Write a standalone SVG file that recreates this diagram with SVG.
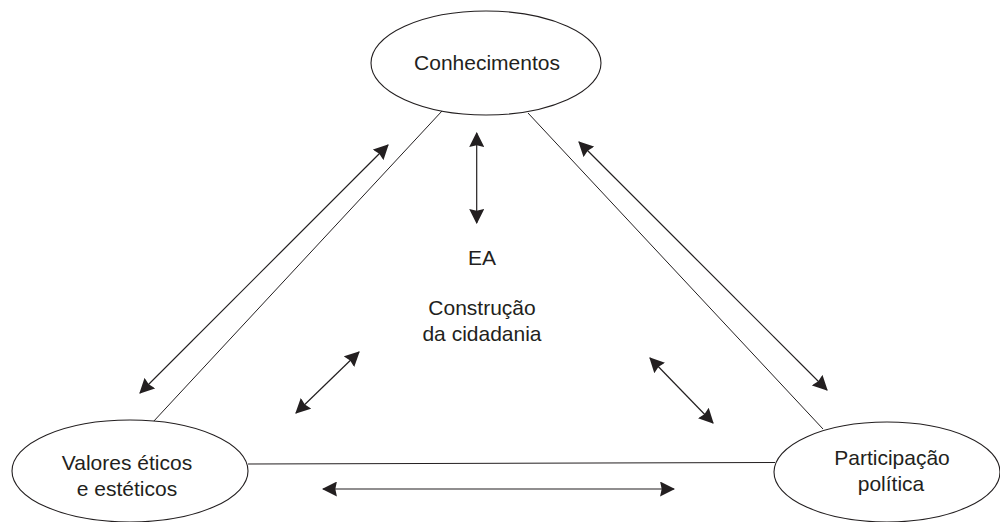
<svg xmlns="http://www.w3.org/2000/svg" width="1000" height="522" viewBox="0 0 1000 522">
<style>
.node ellipse{fill:#fff;stroke:#231f20;stroke-width:1.1}
text{font-family:"Liberation Sans",Arial,sans-serif;font-size:21px;fill:#231f20;text-anchor:middle}
.edge{stroke:#231f20;stroke-width:1;fill:none}
.arr{stroke:#231f20;stroke-width:1.2;fill:none;marker-start:url(#ah);marker-end:url(#ah)}
</style>
<defs>
<marker id="ah" markerUnits="userSpaceOnUse" markerWidth="15" markerHeight="15" refX="13" refY="7" orient="auto-start-reverse" viewBox="0 0 14 14">
<path d="M0,0 L14,7 L0,14 L1.5,7 Z" fill="#231f20"/>
</marker>
</defs>
<rect width="1000" height="522" fill="#fff"/>
<g id="connectors">
<line class="edge" x1="442" y1="111" x2="153" y2="422"/>
<line class="edge" x1="528" y1="113" x2="823" y2="429"/>
<line class="edge" x1="248" y1="464" x2="775" y2="462.5"/>
<line class="arr" x1="140" y1="393" x2="388" y2="145"/>
<line class="arr" x1="579" y1="142" x2="827" y2="390"/>
<line class="arr" x1="476.7" y1="133" x2="476.7" y2="223"/>
<line class="arr" x1="296" y1="413" x2="359" y2="352"/>
<line class="arr" x1="650" y1="358" x2="713" y2="423"/>
<line class="arr" x1="323" y1="489" x2="674" y2="489"/>
</g>
<g id="conhecimentos" class="node">
<ellipse cx="486" cy="63" rx="115" ry="52"/>
<text x="487" y="70">Conhecimentos</text>
</g>
<g id="valores" class="node">
<ellipse cx="130" cy="471" rx="118" ry="51"/>
<text x="127" y="470">Valores éticos</text>
<text x="127" y="496">e estéticos</text>
</g>
<g id="participacao" class="node">
<ellipse cx="887" cy="472" rx="113" ry="50"/>
<text x="892" y="465">Participação</text>
<text x="891" y="491">política</text>
</g>
<g id="centro">
<text x="482" y="265">EA</text>
<text x="482" y="315">Construção</text>
<text x="482" y="341">da cidadania</text>
</g>
</svg>
